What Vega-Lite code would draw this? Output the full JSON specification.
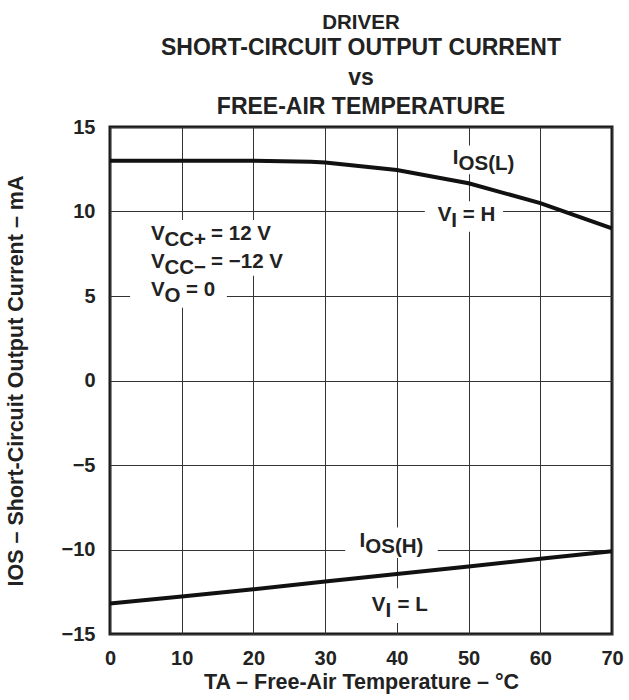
{
  "$schema": "https://vega.github.io/schema/vega-lite/v6.json",
  "width": 502,
  "height": 507,
  "autosize": {"type": "none"},
  "padding": {"left": 110, "top": 127, "right": 17, "bottom": 66},
  "background": "white",
  "title": {
    "text": "DRIVER",
    "subtitle": ["SHORT-CIRCUIT OUTPUT CURRENT", "vs", "FREE-AIR TEMPERATURE"],
    "font": "Liberation Sans",
    "subtitleFont": "Liberation Sans",
    "fontSize": 20.5,
    "fontWeight": "bold",
    "subtitleFontSize": 23,
    "subtitleFontWeight": "bold",
    "subtitleLineHeight": 29.5,
    "subtitlePadding": 4,
    "color": "#222",
    "subtitleColor": "#222",
    "anchor": "middle",
    "offset": -2
  },
  "datasets": {
    "curves": [
      {"T": 0, "I": 13.0, "s": "L"},
      {"T": 10, "I": 13.0, "s": "L"},
      {"T": 20, "I": 13.0, "s": "L"},
      {"T": 28, "I": 12.95, "s": "L"},
      {"T": 30, "I": 12.9, "s": "L"},
      {"T": 40, "I": 12.46, "s": "L"},
      {"T": 50, "I": 11.67, "s": "L"},
      {"T": 60, "I": 10.5, "s": "L"},
      {"T": 70, "I": 9.0, "s": "L"},
      {"T": 0, "I": -13.2, "s": "H"},
      {"T": 10, "I": -12.78, "s": "H"},
      {"T": 20, "I": -12.35, "s": "H"},
      {"T": 30, "I": -11.9, "s": "H"},
      {"T": 40, "I": -11.45, "s": "H"},
      {"T": 50, "I": -11.0, "s": "H"},
      {"T": 60, "I": -10.55, "s": "H"},
      {"T": 70, "I": -10.1, "s": "H"}
    ],
    "boxes": [
      {"x1": 47.0, "x2": 57.6, "y1": 12.2, "y2": 13.9},
      {"x1": 43.9, "x2": 54.8, "y1": 8.8, "y2": 10.6},
      {"x1": 3.0, "x2": 25.8, "y1": 6.2, "y2": 9.5},
      {"x1": 2.8, "x2": 16.3, "y1": 4.3, "y2": 6.2},
      {"x1": 32.8, "x2": 45.7, "y1": -10.5, "y2": -8.7},
      {"x1": 35.0, "x2": 45.3, "y1": -14.35, "y2": -12.3}
    ],
    "labels": [
      {"x": 47.8, "y": 13.17, "t": "I", "k": "main"},
      {"x": 48.6, "y": 13.17, "t": "OS(L)", "k": "sub"},
      {"x": 45.7, "y": 9.82, "t": "V", "k": "main"},
      {"x": 47.6, "y": 9.82, "t": "I", "k": "sub"},
      {"x": 49.2, "y": 9.82, "t": "= H", "k": "main"},
      {"x": 5.7, "y": 8.67, "t": "V", "k": "main"},
      {"x": 7.6, "y": 8.67, "t": "CC+", "k": "sub"},
      {"x": 14.1, "y": 8.67, "t": "= 12 V", "k": "main"},
      {"x": 5.7, "y": 7.04, "t": "V", "k": "main"},
      {"x": 7.6, "y": 7.04, "t": "CC−", "k": "sub"},
      {"x": 14.1, "y": 7.04, "t": "= −12 V", "k": "main"},
      {"x": 5.7, "y": 5.38, "t": "V", "k": "main"},
      {"x": 7.6, "y": 5.38, "t": "O", "k": "sub"},
      {"x": 10.6, "y": 5.38, "t": "= 0", "k": "main"},
      {"x": 34.8, "y": -9.5, "t": "I", "k": "main"},
      {"x": 35.6, "y": -9.5, "t": "OS(H)", "k": "sub"},
      {"x": 36.5, "y": -13.26, "t": "V", "k": "main"},
      {"x": 38.4, "y": -13.26, "t": "I", "k": "sub"},
      {"x": 40.1, "y": -13.26, "t": "= L", "k": "main"}
    ]
  },
  "layer": [
    {
      "data": {"name": "boxes"},
      "mark": {"type": "rect", "fill": "white", "strokeWidth": 0},
      "encoding": {
        "x": {"field": "x1", "type": "quantitative", "scale": {"domain": [0, 70], "nice": false}, "title": "TA – Free-Air Temperature – °C", "axis": {"values": [0, 10, 20, 30, 40, 50, 60, 70]}},
        "x2": {"field": "x2"},
        "y": {"field": "y1", "type": "quantitative", "scale": {"domain": [-15, 15], "nice": false}, "title": "IOS – Short-Circuit Output Current – mA", "axis": {"values": [-15, -10, -5, 0, 5, 10, 15]}},
        "y2": {"field": "y2"}
      }
    },
    {
      "data": {"name": "curves"},
      "mark": {"type": "line", "color": "#111", "strokeWidth": 4},
      "encoding": {
        "x": {"field": "T", "type": "quantitative", "title": "TA – Free-Air Temperature – °C"},
        "y": {"field": "I", "type": "quantitative", "title": "IOS – Short-Circuit Output Current – mA"},
        "detail": {"field": "s"}
      }
    },
    {
      "data": {"name": "labels"},
      "transform": [{"filter": "datum.k === 'main'"}],
      "mark": {"type": "text", "align": "left", "baseline": "middle", "font": "Liberation Sans", "fontSize": 20.5, "fontWeight": "bold", "color": "#222"},
      "encoding": {
        "x": {"field": "x", "type": "quantitative", "title": "TA – Free-Air Temperature – °C"},
        "y": {"field": "y", "type": "quantitative", "title": "IOS – Short-Circuit Output Current – mA"},
        "text": {"field": "t"}
      }
    },
    {
      "data": {"name": "labels"},
      "transform": [{"filter": "datum.k === 'sub'"}],
      "mark": {"type": "text", "align": "left", "baseline": "middle", "dy": 6, "font": "Liberation Sans", "fontSize": 20.5, "fontWeight": "bold", "color": "#222"},
      "encoding": {
        "x": {"field": "x", "type": "quantitative", "title": "TA – Free-Air Temperature – °C"},
        "y": {"field": "y", "type": "quantitative", "title": "IOS – Short-Circuit Output Current – mA"},
        "text": {"field": "t"}
      }
    }
  ],
  "config": {
    "font": "Liberation Sans",
    "view": {"stroke": "#1a1a1a", "strokeWidth": 3},
    "axis": {
      "grid": true,
      "gridColor": "#333",
      "gridWidth": 1,
      "gridOpacity": 1,
      "domain": false,
      "ticks": false,
      "labelFont": "Liberation Sans",
      "labelFontSize": 20,
      "labelFontWeight": "bold",
      "labelColor": "#222",
      "labelFlush": false,
      "labelOverlap": false,
      "titleFont": "Liberation Sans",
      "titleFontSize": 21.5,
      "titleFontWeight": "bold",
      "titleColor": "#222"
    },
    "axisX": {"labelPadding": 14, "titlePadding": 3},
    "axisY": {"labelPadding": 15, "titlePadding": 34}
  }
}
